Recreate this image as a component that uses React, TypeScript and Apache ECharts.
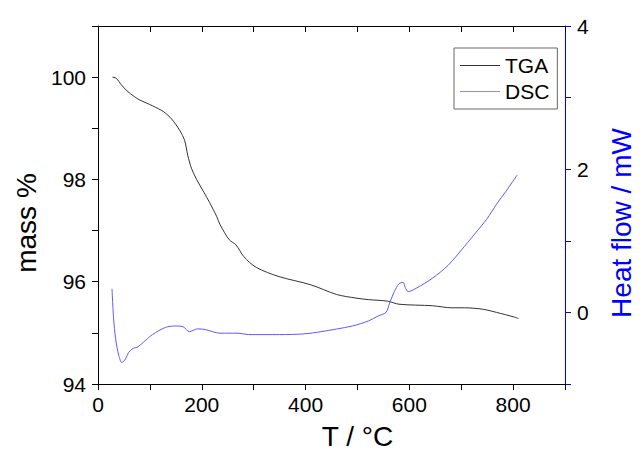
import React, { useEffect, useRef } from "react";
import * as echarts from "echarts";

const tgaT = [28, 35, 45, 56, 70, 81, 105, 127, 142, 158, 167, 173, 180, 190, 204, 215, 229, 235, 253, 266, 281, 305, 349, 410, 460, 497, 521, 558, 580, 645, 682, 706, 743, 768, 802, 810];
const tgaMass = [100.0, 99.98, 99.85, 99.73, 99.62, 99.55, 99.44, 99.32, 99.18, 98.95, 98.76, 98.47, 98.22, 98.0, 97.75, 97.55, 97.27, 97.12, 96.82, 96.72, 96.49, 96.28, 96.1, 95.94, 95.75, 95.68, 95.65, 95.62, 95.56, 95.53, 95.49, 95.49, 95.46, 95.4, 95.31, 95.28];

const dscT = [27, 30, 34, 40, 46, 53, 59, 68, 75, 87, 105, 130, 148, 164, 176, 192, 207, 235, 270, 290, 350, 397, 429, 490, 521, 540, 555, 562, 571, 580, 588, 592, 598, 614, 645, 675, 706, 731, 749, 768, 786, 808];
const dscHeat = [0.33, -0.08, -0.37, -0.6, -0.7, -0.65, -0.56, -0.5, -0.49, -0.42, -0.31, -0.21, -0.19, -0.2, -0.27, -0.23, -0.24, -0.29, -0.29, -0.31, -0.31, -0.3, -0.27, -0.19, -0.12, -0.05, 0.0, 0.13, 0.29, 0.4, 0.42, 0.35, 0.29, 0.34, 0.48, 0.66, 0.92, 1.14, 1.3, 1.51, 1.69, 1.92];

const xLabels = [0, 200, 400, 600, 800];
const leftLabels = [94, 96, 98, 100];
const rightLabels = [0, 2, 4];

const FONT = "'Liberation Sans', Arial, sans-serif";

export default function App() {
  const ref = useRef<HTMLDivElement>(null);
  useEffect(() => {
    if (!ref.current) return;
    const chart = echarts.init(ref.current, undefined, { renderer: "svg" });
    const tgaData = tgaT.map((t, i) => [t, tgaMass[i]]);
    const dscData = dscT.map((t, i) => [t, dscHeat[i]]);
    chart.setOption({
      animation: false,
      backgroundColor: "#fff",
      grid: { left: 98, right: 58, top: 26, bottom: 68, containLabel: false },
      legend: {
        orient: "vertical",
        left: 454,
        top: 48,
        padding: [7, 8, 7, 6],
        borderColor: "#666",
        borderWidth: 1,
        itemWidth: 40,
        itemHeight: 1,
        itemGap: 5,
        icon: "rect",
        textStyle: { fontSize: 21, fontFamily: FONT, color: "#000", lineHeight: 21 },
        data: [
          { name: "TGA", itemStyle: { color: "#333" } },
          { name: "DSC", itemStyle: { color: "#8c8cff" } },
        ],
      },
      xAxis: [
        {
          type: "value",
          position: "bottom",
          min: 0,
          max: 900,
          interval: 100,
          name: "T / °C",
          nameLocation: "middle",
          nameGap: 38,
          nameTextStyle: { fontSize: 28, fontFamily: FONT, color: "#000", padding: [0, 0, 0, 52] },
          axisLine: { show: true, onZero: false, lineStyle: { color: "#000", width: 1 } },
          axisTick: { show: true, inside: false, length: 6, lineStyle: { color: "#000" } },
          axisLabel: {
            fontSize: 21,
            fontFamily: FONT,
            color: "#000",
            margin: 10,
            formatter: (v: number) => (xLabels.includes(v) ? String(v) : ""),
          },
          splitLine: { show: false },
        },
        {
          type: "value",
          position: "top",
          min: 0,
          max: 900,
          interval: 100,
          axisLine: { show: true, onZero: false, lineStyle: { color: "#000", width: 1 } },
          axisTick: { show: true, inside: true, length: 6, lineStyle: { color: "#000" } },
          axisLabel: { show: false },
          splitLine: { show: false },
        },
      ],
      yAxis: [
        {
          type: "value",
          position: "left",
          min: 94,
          max: 101,
          interval: 1,
          name: "mass %",
          nameLocation: "middle",
          nameGap: 56,
          nameTextStyle: { fontSize: 28, fontFamily: FONT, color: "#000", padding: [0, 36, 0, 0] },
          axisLine: { show: true, onZero: false, lineStyle: { color: "#000", width: 1 } },
          axisTick: { show: true, inside: false, length: 6, lineStyle: { color: "#000" } },
          axisLabel: {
            fontSize: 21,
            fontFamily: FONT,
            color: "#000",
            margin: 12,
            formatter: (v: number) => (leftLabels.includes(v) ? String(v) : ""),
          },
          splitLine: { show: false },
        },
        {
          type: "value",
          position: "right",
          min: -1,
          max: 4,
          interval: 1,
          name: "Heat flow / mW",
          nameLocation: "middle",
          nameGap: 42,
          nameTextStyle: { fontSize: 28, fontFamily: FONT, color: "#0000ff", padding: [0, 36, 0, 0] },
          axisLine: { show: true, onZero: false, lineStyle: { color: "#0000ff", width: 1 } },
          axisTick: { show: true, inside: false, length: 6, lineStyle: { color: "#0000ff" } },
          axisLabel: {
            fontSize: 21,
            fontFamily: FONT,
            color: "#000",
            margin: 12,
            formatter: (v: number) => (rightLabels.includes(v) ? String(v) : ""),
          },
          splitLine: { show: false },
        },
      ],
      series: [
        {
          name: "TGA",
          type: "line",
          xAxisIndex: 0,
          yAxisIndex: 0,
          data: tgaData,
          symbol: "none",
          smooth: 0.3,
          lineStyle: { color: "#333", width: 1 },
          itemStyle: { color: "#333" },
        },
        {
          name: "DSC",
          type: "line",
          xAxisIndex: 0,
          yAxisIndex: 1,
          data: dscData,
          symbol: "none",
          smooth: 0.3,
          lineStyle: { color: "#5a5aff", width: 1 },
          itemStyle: { color: "#5a5aff" },
        },
      ],
    });
    return () => chart.dispose();
  }, []);
  return (
    <div
      ref={ref}
      style={{ position: "absolute", left: 0, top: 0, width: 643, height: 455, background: "#fff" }}
    />
  );
}
